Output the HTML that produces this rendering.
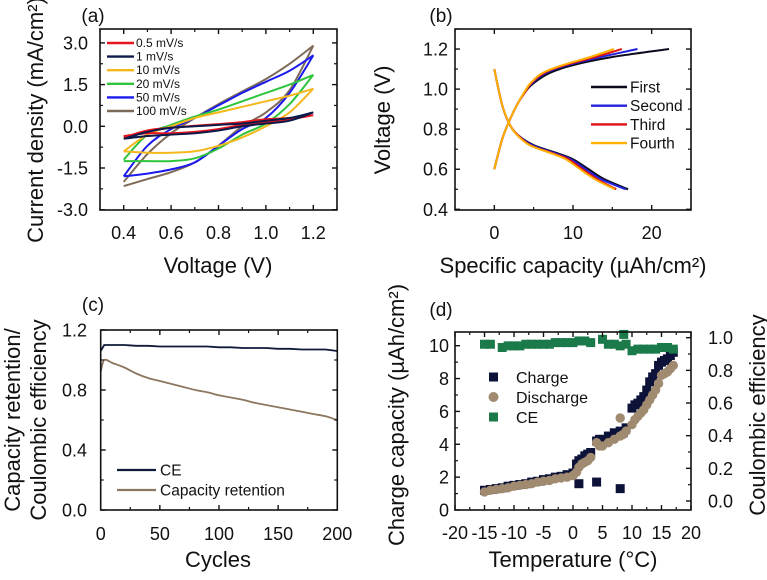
<!DOCTYPE html>
<html><head><meta charset="utf-8">
<style>
html,body{margin:0;padding:0;background:#fff;}
svg{display:block;font-family:"Liberation Sans",Arial,sans-serif;}
</style></head>
<body>
<svg id="fig" width="767" height="580" viewBox="0 0 767 580" xmlns="http://www.w3.org/2000/svg"></svg>
<script>
// ---------- data ----------
const cvV = [0.4,0.5,0.6,0.7,0.8,0.9,1.0,1.1,1.2];
const cvRates = ["0.5 mV/s","1 mV/s","10 mV/s","20 mV/s","50 mV/s","100 mV/s"];
const cvUp05 = [-0.4,-0.15,-0.05,0.02,0.08,0.15,0.25,0.3,0.4];
const cvDn05 = [0.4,0.25,0.15,0.05,-0.1,-0.2,-0.25,-0.25,-0.35];
const cvUp1 = [-0.45,-0.2,-0.05,0.0,0.05,0.1,0.2,0.3,0.5];
const cvDn1 = [0.5,0.2,0.1,0.0,-0.15,-0.25,-0.3,-0.35,-0.45];
const cvUp10 = [-0.9,-0.3,0.0,0.3,0.5,0.7,0.9,1.1,1.35];
const cvDn10 = [1.35,0.5,0.0,-0.4,-0.7,-0.9,-0.95,-0.95,-0.9];
const cvUp20 = [-1.2,-0.3,0.05,0.35,0.6,0.9,1.2,1.5,1.85];
const cvDn20 = [1.85,0.8,0.1,-0.3,-0.8,-1.15,-1.25,-1.25,-1.25];
const cvUp50 = [-1.8,-0.7,-0.1,0.3,0.75,1.2,1.6,2.0,2.55];
const cvDn50 = [2.55,1.2,0.3,-0.1,-0.7,-1.3,-1.55,-1.7,-1.8];
const cvUp100 = [-2.0,-1.0,-0.25,0.3,0.8,1.25,1.7,2.25,2.9];
const cvDn100 = [2.9,1.3,0.5,0.0,-0.7,-1.3,-1.65,-1.9,-2.15];

const gcdNames = ["First","Second","Third","Fourth"];
const chgV = [0.6,0.75,0.85,0.93,0.99,1.03,1.08,1.12,1.16,1.2];
const chgCap1 = [0,1,2,3,4,5,7,10,15,22.2];
const chgCap2 = [0,1,2,3,4,4.8,6.5,9.3,13.5,18.2];
const chgCap3 = [0,1,2,3,4,4.7,6.3,9.0,12.8,16.2];
const chgCap4 = [0,1,2,3,3.9,4.6,6.1,8.7,12.2,15.2];
const disV = [1.1,0.92,0.82,0.77,0.72,0.68,0.65,0.6,0.55,0.5];
const disCap1 = [0,1,2,3,5,8,10,12,14,17];
const disCap2 = [0,1,2,3,4.8,7.7,9.7,11.6,13.6,16.7];
const disCap3 = [0,1,2,3,4.6,7.4,9.4,11.2,13.1,15.5];
const disCap4 = [0,1,2,2.9,4.5,7.2,9.1,10.9,12.8,15.3];

const cycN = [0,3,10,20,30,40,50,60,70,80,90,100,110,120,130,140,150,160,170,180,190,200];
const cycCE = [1.06,1.1,1.1,1.1,1.095,1.095,1.09,1.09,1.09,1.09,1.09,1.085,1.085,1.08,1.08,1.08,1.075,1.075,1.07,1.07,1.07,1.06];
const cycRet = [0.92,1.0,0.98,0.95,0.91,0.88,0.86,0.84,0.82,0.80,0.785,0.765,0.75,0.735,0.715,0.70,0.685,0.67,0.655,0.64,0.625,0.60];

const tempT = [-15,-14,-13,-12,-11,-10,-9,-8,-7,-6,-5,-4,-3,-2,-1,0,0.6,1,1.5,2,2.5,3,4,4.5,5,6,7,8,8.5,9,10,10.5,11,11.5,12,12.5,13,13.5,14,14.5,15,15.5,16,16.5,17];
const tempChg = [1.2,1.25,1.3,1.35,1.45,1.5,1.55,1.6,1.7,1.75,1.85,1.9,2.0,2.05,2.15,2.25,2.8,3.0,3.1,3.3,3.4,3.5,4.2,4.3,4.3,4.5,4.7,4.8,4.7,5.0,6.2,6.4,6.5,6.7,6.9,7.3,7.8,8.1,8.3,8.8,9.0,9.1,9.2,9.4,9.6];
const tempDis = [1.1,1.2,1.25,1.3,1.35,1.45,1.5,1.55,1.6,1.7,1.75,1.8,1.9,1.95,2.0,2.1,2.3,2.6,2.8,2.9,3.0,3.2,4.1,3.9,3.9,4.1,4.3,4.5,4.6,4.8,5.2,5.5,5.7,5.9,6.1,6.4,6.7,7.0,7.3,7.7,8.2,8.3,8.4,8.6,8.8];
const outChgT = [1,4,8];
const outChgV = [1.6,1.7,1.3];
const outDisT = [8];
const outDisV = [5.6];
const ceT = [-15,-14,-12,-11,-10,-9,-8,-7,-6,-5,-4,-3,-2,-1,0,1,2,3,5,6,7,8,8.6,9,10,11,12,13,14,15,16,17];
const ceV = [0.96,0.96,0.94,0.95,0.95,0.95,0.96,0.96,0.96,0.96,0.96,0.97,0.97,0.97,0.97,0.98,0.98,0.97,0.99,0.96,0.96,0.95,1.02,0.96,0.92,0.93,0.93,0.93,0.93,0.94,0.94,0.93];

// ---------- helpers ----------
const NS="http://www.w3.org/2000/svg";
const svg=document.getElementById('fig');
const TK=18, TT=22;
function mk(tag,attrs,parent){const e=document.createElementNS(NS,tag);for(const k in attrs)e.setAttribute(k,attrs[k]);(parent||svg).appendChild(e);return e;}
function txt(s,x,y,size,anchor,parent,rot){const e=mk('text',{x:x,y:y,'font-size':size,'text-anchor':anchor||'middle',fill:'#111'},parent);if(rot)e.setAttribute('transform','rotate(-90 '+x+' '+y+')');e.textContent=s;return e;}
function scale(d0,d1,r0,r1){return v=>r0+(v-d0)*(r1-r0)/(d1-d0);}
function smooth(pts){let d='M'+pts[0][0].toFixed(1)+' '+pts[0][1].toFixed(1);for(let i=0;i<pts.length-1;i++){const p0=pts[i-1]||pts[i],p1=pts[i],p2=pts[i+1],p3=pts[i+2]||p2;const c1=[p1[0]+(p2[0]-p0[0])/6,p1[1]+(p2[1]-p0[1])/6],c2=[p2[0]-(p3[0]-p1[0])/6,p2[1]-(p3[1]-p1[1])/6];d+=' C'+c1[0].toFixed(1)+' '+c1[1].toFixed(1)+' '+c2[0].toFixed(1)+' '+c2[1].toFixed(1)+' '+p2[0].toFixed(1)+' '+p2[1].toFixed(1);}return d;}
function box(g,L,T,R,B){const r=mk('rect',{x:L,y:T,width:R-L,height:B-T,fill:'none',stroke:'#111','stroke-width':1.6},g);}
function xticks(g,sx,vals,minor,T,B,labels,ly){vals.forEach((v,i)=>{const x=sx(v);mk('line',{x1:x,y1:B,x2:x,y2:B-5,stroke:'#111','stroke-width':1.4},g);mk('line',{x1:x,y1:T,x2:x,y2:T+5,stroke:'#111','stroke-width':1.4},g);const t=txt(labels[i],x,ly,TK,'middle',g);});minor.forEach(v=>{const x=sx(v);mk('line',{x1:x,y1:B,x2:x,y2:B-3,stroke:'#111','stroke-width':1.2},g);mk('line',{x1:x,y1:T,x2:x,y2:T+3,stroke:'#111','stroke-width':1.2},g);});}
function yticks(g,sy,vals,minor,L,R,labels,lx){vals.forEach((v,i)=>{const y=sy(v);mk('line',{x1:L,y1:y,x2:L+5,y2:y,stroke:'#111','stroke-width':1.4},g);mk('line',{x1:R,y1:y,x2:R-5,y2:y,stroke:'#111','stroke-width':1.4},g);const t=txt(labels[i],lx,y+6.5,TK,'end',g);});minor.forEach(v=>{const y=sy(v);mk('line',{x1:L,y1:y,x2:L+3,y2:y,stroke:'#111','stroke-width':1.2},g);mk('line',{x1:R,y1:y,x2:R-3,y2:y,stroke:'#111','stroke-width':1.2},g);});}
function group(name){const g=mk('g',{});return g;}

// ---------- panel a ----------
(function(){
const g=group('panel-a-cv');
const L=100,R=337,T=29,B=210;
const sx=scale(0.3,1.3,L,R), sy=scale(-3,3.5,209.7,29);
const up=[cvUp05,cvUp1,cvUp10,cvUp20,cvUp50,cvUp100], dn=[cvDn05,cvDn1,cvDn10,cvDn20,cvDn50,cvDn100];
const cols=['#e8141e','#0d1a4a','#f5b81c','#2fc43c','#1a1aee','#7d6a58'];
const order=[5,4,3,2,0,1];
order.forEach(i=>{
  const pts=cvV.map((v,k)=>[sx(v),sy(up[i][k])]);
  const pts2=cvV.slice().reverse().map((v,k)=>[sx(v),sy(dn[i][k])]);
  const p=mk('path',{d:smooth(pts)+' '+smooth(pts2).replace('M','L'),fill:'none',stroke:cols[i],'stroke-width':2},g);
  
  
});
box(g,L,T,R,B);
xticks(g,sx,[0.4,0.6,0.8,1.0,1.2],[0.3,0.5,0.7,0.9,1.1,1.3],T,B,['0.4','0.6','0.8','1.0','1.2'],239);
yticks(g,sy,[-3,-1.5,0,1.5,3],[-2.25,-0.75,0.75,2.25],L,R,['-3.0','-1.5','0.0','1.5','3.0'],88);
const lg=group('legend-a');
cvRates.forEach((r,i)=>{const y=43+i*13.6;const l=mk('line',{x1:107,y1:y,x2:134,y2:y,stroke:cols[i],'stroke-width':2.4},lg);const t=txt(r,136,y+4,12,'start',lg);});
let t=txt('Voltage (V)',218,273,TT,'middle',g);
t=txt('Current density (mA/cm²)',43,120,TT,'middle',g,true);
t=txt('(a)',93,22,19,'middle',g);
})();

// ---------- panel b ----------
(function(){
const g=group('panel-b-gcd');
const L=455,R=691,T=29,B=210;
const sx=scale(-5,25,L,R), sy=scale(0.4,1.3,209.3,29);
const cols=['#0a0a1e','#2222dd','#dd1111','#ffb000'];
const cc=[chgCap1,chgCap2,chgCap3,chgCap4], dc=[disCap1,disCap2,disCap3,disCap4];
[0,1,2,3].forEach(i=>{
  let p=mk('path',{d:smooth(cc[i].map((c,k)=>[sx(c),sy(chgV[k])])),fill:'none',stroke:cols[i],'stroke-width':2},g);
  
  p=mk('path',{d:smooth(dc[i].map((c,k)=>[sx(c),sy(disV[k])])),fill:'none',stroke:cols[i],'stroke-width':2},g);
  
});
box(g,L,T,R,B);
xticks(g,sx,[0,10,20],[-5,5,15,25],T,B,['0','10','20'],239);
yticks(g,sy,[0.4,0.6,0.8,1.0,1.2],[0.5,0.7,0.9,1.1,1.3],L,R,['0.4','0.6','0.8','1.0','1.2'],448);
const lg=group('legend-b');
gcdNames.forEach((n,i)=>{const y=87+i*18.7;const l=mk('line',{x1:591,y1:y,x2:627,y2:y,stroke:cols[i],'stroke-width':2.4},lg);const t=txt(n,630,y+5.5,15.5,'start',lg);});
let t=txt('Specific capacity (µAh/cm²)',573,273,TT,'middle',g);
t=txt('Voltage (V)',390,120,TT,'middle',g,true);
t=txt('(b)',441,22,19,'middle',g);
})();

// ---------- panel c ----------
(function(){
const g=group('panel-c-cycling');
const L=100.7,R=337.3,T=330,B=510;
const sx=scale(0,200,L,R), sy=scale(0,1.2,B,T);
let p=mk('path',{d:smooth(cycN.map((n,k)=>[sx(n),sy(cycRet[k])])),fill:'none',stroke:'#8c7760','stroke-width':1.8},g);

p=mk('path',{d:'M'+cycN.map((n,k)=>sx(n).toFixed(1)+' '+sy(cycCE[k]).toFixed(1)).join(' L'),fill:'none',stroke:'#0f1a3a','stroke-width':1.8},g);

box(g,L,T,R,B);
xticks(g,sx,[0,50,100,150,200],[25,75,125,175],T,B,['0','50','100','150','200'],540);
yticks(g,sy,[0,0.4,0.8,1.2],[0.2,0.6,1.0],L,R,['0.0','0.4','0.8','1.2'],87);
const lg=group('legend-c');
[['CE','#0f1a3a'],['Capacity retention','#8c7760']].forEach((e,i)=>{const y=470+i*20;const l=mk('line',{x1:117,y1:y,x2:156,y2:y,stroke:e[1],'stroke-width':2.2},lg);const t=txt(e[0],160,y+5.5,15.5,'start',lg);});
let t=txt('Cycles',218,567,TT,'middle',g);
t=txt('Capacity retention/',20,420,TT,'middle',g,true);
t=txt('Coulombic efficiency',46,420,TT,'middle',g,true);
t=txt('(c)',93,311,19,'middle',g);
})();

// ---------- panel d ----------
(function(){
const g=group('panel-d-temperature');
const L=455,R=691,T=332,B=510;
const sx=scale(-20,20,L,R), sy=scale(0,10,B,345.7), sy2=scale(0,1,501,337.7);
const s=9;
tempT.forEach((x,k)=>{const r=mk('rect',{x:sx(x)-s/2,y:sy(tempChg[k])-s/2,width:s,height:s,fill:'#0d1238'},g);});
outChgT.forEach((x,k)=>{const r=mk('rect',{x:sx(x)-s/2,y:sy(outChgV[k])-s/2,width:s,height:s,fill:'#0d1238'},g);});
tempT.forEach((x,k)=>{const c=mk('circle',{cx:sx(x),cy:sy(tempDis[k]),r:4.7,fill:'#a08a70'},g);});
outDisT.forEach((x,k)=>{const c=mk('circle',{cx:sx(x),cy:sy(outDisV[k]),r:4.7,fill:'#a08a70'},g);});
ceT.forEach((x,k)=>{const r=mk('rect',{x:sx(x)-s/2,y:sy2(ceV[k])-s/2,width:s,height:s,fill:'#1a7a4a'},g);});
box(g,L,T,R,B);
xticks(g,sx,[-20,-15,-10,-5,0,5,10,15,20],[-17.5,-12.5,-7.5,-2.5,2.5,7.5,12.5,17.5],T,B,['-20','-15','-10','-5','0','5','10','15','20'],539);
[0,2,4,6,8,10].forEach(v=>{const y=sy(v);mk('line',{x1:L,y1:y,x2:L+5,y2:y,stroke:'#111','stroke-width':1.4},g);const t=txt(String(v),449,y+6.5,TK,'end',g);});
[1,3,5,7,9].forEach(v=>{const y=sy(v);mk('line',{x1:L,y1:y,x2:L+3,y2:y,stroke:'#111','stroke-width':1.2},g);});
[0,0.2,0.4,0.6,0.8,1.0].forEach(v=>{const y=sy2(v);mk('line',{x1:R,y1:y,x2:R-5,y2:y,stroke:'#111','stroke-width':1.4},g);const t=txt(v.toFixed(1),708,y+6.5,TK,'start',g);});
[0.1,0.3,0.5,0.7,0.9].forEach(v=>{const y=sy2(v);mk('line',{x1:R,y1:y,x2:R-3,y2:y,stroke:'#111','stroke-width':1.2},g);});
const lg=group('legend-d');
[['Charge','#0d1238','sq'],['Discharge','#a08a70','c'],['CE','#1a7a4a','sq']].forEach((e,i)=>{const y=377+i*20;let m;if(e[2]==='sq')m=mk('rect',{x:489,y:y-4.5,width:9,height:9,fill:e[1]},lg);else m=mk('circle',{cx:493.5,cy:y,r:5,fill:e[1]},lg);const t=txt(e[0],516,y+6,16,'start',lg);});
let t=txt('Temperature (°C)',573,567,TT,'middle',g);
t=txt('Charge capacity (µAh/cm²)',404,415,TT,'middle',g,true);
t=txt('Coulombic efficiency',765,415,TT,'middle',g,true);
t=txt('(d)',441,316,19,'middle',g);
})();
</script>
</body></html>
